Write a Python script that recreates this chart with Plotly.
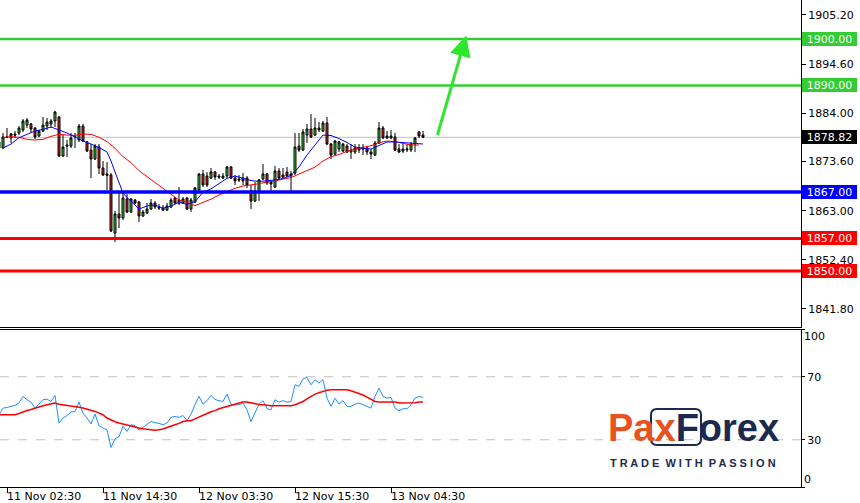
import plotly.graph_objects as go

# ---------------- data ----------------
opens = [1876.51, 1876.51, 1878.88, 1878.67, 1879.53, 1879.75, 1880.39, 1881.47, 1881.69, 1880.82,
         1879.10, 1880.18, 1881.26, 1881.69, 1882.33, 1883.20, 1874.79, 1877.16, 1876.94, 1879.10,
         1878.24, 1881.26, 1877.81, 1876.08, 1874.14, 1876.73, 1872.20, 1870.91, 1870.69, 1858.18,
         1862.28, 1861.42, 1865.52, 1862.71, 1865.30, 1864.87, 1861.85, 1862.50, 1863.36, 1864.65,
         1863.79, 1863.57, 1863.14, 1863.79, 1865.73, 1865.30, 1864.65, 1865.73, 1863.36, 1864.87,
         1867.46, 1870.91, 1870.47, 1870.04, 1871.34, 1870.47, 1870.04, 1870.47, 1872.42, 1870.04,
         1869.83, 1870.04, 1870.04, 1867.24, 1865.08, 1867.24, 1869.83, 1870.91, 1869.18, 1868.10,
         1871.55, 1870.69, 1871.34, 1870.91, 1871.12, 1876.94, 1876.08, 1879.31, 1880.61, 1879.31,
         1880.82, 1880.18, 1881.90, 1877.37, 1875.22, 1876.30, 1875.86, 1876.94, 1876.08, 1875.65,
         1876.51, 1876.30, 1876.51, 1875.65, 1875.00, 1877.59, 1880.82, 1879.10, 1878.67, 1878.88,
         1876.30, 1875.86, 1876.08, 1876.08, 1877.37, 1879.96, 1879.31]
highs = [1878.24, 1879.75, 1880.82, 1879.75, 1880.18, 1881.26, 1882.77, 1882.98, 1881.90, 1881.04,
         1880.39, 1883.20, 1882.98, 1882.77, 1884.49, 1883.41, 1879.31, 1878.24, 1879.75, 1879.75,
         1881.69, 1881.69, 1878.02, 1877.37, 1877.37, 1877.37, 1873.71, 1873.49, 1871.12, 1862.93,
         1867.03, 1867.03, 1866.59, 1865.73, 1865.52, 1865.08, 1863.14, 1864.65, 1865.52, 1865.08,
         1864.44, 1864.22, 1864.65, 1865.73, 1865.95, 1868.10, 1865.95, 1865.95, 1865.73, 1868.10,
         1871.12, 1871.77, 1871.34, 1872.20, 1871.55, 1870.91, 1871.12, 1872.63, 1872.63, 1870.69,
         1870.69, 1871.12, 1870.47, 1868.53, 1869.18, 1869.83, 1873.06, 1871.12, 1869.61, 1872.63,
         1872.20, 1872.20, 1872.42, 1871.55, 1879.75, 1879.75, 1880.61, 1881.69, 1883.85, 1882.98,
         1882.12, 1882.33, 1883.20, 1877.59, 1878.24, 1878.02, 1877.59, 1877.37, 1877.37, 1877.37,
         1877.37, 1877.37, 1876.94, 1876.30, 1878.02, 1882.12, 1881.26, 1880.18, 1880.39, 1879.75,
         1877.37, 1877.37, 1877.37, 1877.81, 1878.88, 1880.18, 1880.18]
lows = [1876.08, 1876.30, 1878.67, 1877.59, 1878.67, 1879.31, 1879.96, 1880.82, 1879.75, 1878.45,
        1878.88, 1879.96, 1880.39, 1880.82, 1881.04, 1874.57, 1874.57, 1874.57, 1876.51, 1876.51,
        1877.81, 1877.81, 1875.65, 1870.04, 1873.92, 1870.91, 1870.47, 1867.46, 1858.40, 1856.24,
        1859.26, 1860.99, 1862.50, 1862.50, 1864.44, 1860.55, 1861.63, 1862.28, 1863.14, 1863.36,
        1863.14, 1862.93, 1862.93, 1863.57, 1864.44, 1864.22, 1864.44, 1863.14, 1862.71, 1864.65,
        1867.24, 1868.10, 1868.10, 1869.83, 1869.61, 1869.83, 1869.83, 1870.04, 1869.83, 1868.53,
        1869.18, 1868.53, 1867.89, 1863.36, 1864.87, 1865.08, 1869.61, 1868.53, 1867.24, 1867.89,
        1869.83, 1870.04, 1870.26, 1867.24, 1870.69, 1875.65, 1875.86, 1877.59, 1878.67, 1879.10,
        1879.96, 1879.96, 1877.16, 1874.14, 1875.00, 1875.65, 1875.65, 1875.43, 1874.14, 1875.22,
        1875.43, 1875.00, 1875.00, 1874.14, 1874.79, 1877.37, 1878.45, 1878.45, 1878.45, 1875.86,
        1875.43, 1875.43, 1875.65, 1875.65, 1875.65, 1878.67, 1878.67]
closes = [1877.81, 1878.88, 1878.80, 1879.53, 1879.31, 1880.82, 1882.33, 1882.55, 1880.61, 1878.88,
          1880.18, 1881.47, 1882.12, 1882.33, 1884.28, 1874.79, 1876.73, 1876.94, 1878.67, 1879.00,
          1881.26, 1878.02, 1875.86, 1874.14, 1876.94, 1872.20, 1870.69, 1870.60, 1858.61, 1862.28,
          1861.42, 1865.73, 1862.71, 1865.52, 1864.65, 1861.85, 1862.71, 1863.36, 1864.65, 1863.79,
          1863.57, 1863.14, 1864.01, 1865.30, 1864.65, 1864.65, 1865.52, 1863.36, 1865.30, 1867.89,
          1870.91, 1868.53, 1868.53, 1871.34, 1870.26, 1870.26, 1870.47, 1872.42, 1870.04, 1869.40,
          1869.61, 1869.40, 1868.53, 1865.08, 1867.24, 1869.61, 1870.91, 1868.97, 1868.75, 1871.55,
          1870.04, 1870.26, 1870.47, 1870.47, 1876.73, 1876.08, 1879.96, 1880.61, 1878.88, 1880.82,
          1880.39, 1881.90, 1877.37, 1875.00, 1878.02, 1877.81, 1877.37, 1875.65, 1875.65, 1876.51,
          1876.08, 1876.51, 1875.65, 1875.22, 1877.59, 1880.82, 1878.67, 1878.67, 1879.10, 1876.08,
          1875.65, 1876.30, 1876.30, 1877.37, 1878.67, 1879.10, 1878.82]
candle_idx = list(range(len(opens)))

ma_fast_pos = [1, 3, 5, 7, 9, 11, 13, 15, 17, 19, 21, 23, 25, 27, 28, 29, 30, 31, 32, 33, 34, 35,
               37, 39, 41, 43, 45, 47, 49, 51, 53, 55, 57, 59, 61, 63, 65, 67, 69, 71, 73, 75, 77,
               79, 81, 83, 85, 87, 89, 91, 93, 95, 97, 99, 101, 103, 105, 106]
ma_fast = [1876.51, 1877.37, 1878.73, 1879.46, 1880.18, 1880.54, 1881.04, 1880.39, 1879.75, 1878.88,
           1878.02, 1877.37, 1876.62, 1875.65, 1873.71, 1871.34, 1868.97, 1866.81, 1865.84, 1864.97,
           1864.01, 1863.36, 1864.01, 1864.22, 1863.50, 1864.01, 1864.80, 1864.37, 1864.94, 1866.96,
           1867.70, 1868.89, 1869.97, 1870.47, 1870.04, 1869.50, 1869.29, 1869.40, 1869.61, 1869.93,
           1870.58, 1872.42, 1875.00, 1877.16, 1879.31, 1879.20, 1878.56, 1877.70, 1876.73, 1876.43,
           1876.30, 1877.05, 1877.81, 1877.81, 1877.70, 1877.44, 1877.37, 1877.37]
ma_slow_pos = list(range(1, 106, 2))
ma_slow = [1878.82, 1878.95, 1878.82, 1878.39, 1878.24, 1878.39, 1879.03, 1879.46, 1879.31, 1879.24,
           1879.53, 1879.46, 1878.82, 1877.90, 1876.45, 1874.65, 1873.35, 1871.62, 1870.33, 1869.11,
           1867.82, 1866.52, 1865.30, 1864.80, 1864.07, 1864.80, 1865.48, 1866.38, 1867.17, 1867.82,
           1868.32, 1868.53, 1868.81, 1869.18, 1869.40, 1869.83, 1870.11, 1870.91, 1871.62, 1872.38,
           1873.71, 1874.65, 1875.10, 1875.80, 1876.30, 1876.66, 1877.01, 1877.66, 1878.02, 1877.88,
           1877.44, 1877.16, 1877.16]

rsi = [45.9, 50.1, 50.5, 51.2, 51.8, 53.3, 57.5, 55.4, 53.9, 50.1, 52.6,
       55.4, 55.8, 54.3, 58.1, 40.6, 43.8, 45.4, 47.6, 48.0, 53.9,
       46.9, 43.8, 40.0, 46.3, 38.9, 37.4, 36.3, 25.1, 30.6, 31.9,
       38.5, 35.3, 39.5, 39.1, 36.1, 37.8, 40.0, 41.6, 40.8, 40.4,
       39.5, 40.6, 44.2, 44.8, 44.2, 45.4, 42.1, 46.3, 52.2, 57.5,
       52.6, 54.8, 58.1, 55.6, 54.8, 54.3, 59.0, 52.6, 52.2, 52.2,
       53.3, 49.0, 41.6, 46.9, 52.6, 54.8, 49.7, 49.0, 55.4, 53.9,
       54.8, 53.9, 54.3, 64.9, 63.9, 68.7, 69.6, 64.9, 68.1, 66.0,
       68.1, 56.4, 51.2, 56.4, 52.6, 54.8, 51.2, 51.2, 52.6, 53.3,
       52.2, 51.2, 50.1, 57.5, 62.8, 57.5, 56.4, 56.9, 50.1, 48.4,
       49.7, 49.7, 52.2, 56.4, 57.5, 56.9]
rsi_ma = [45.9, 45.9, 45.9, 45.9, 45.9,
          46.7, 47.8, 48.6, 49.2, 50.1, 51.2, 51.6, 52.2, 52.9, 53.3,
          52.6, 52.2, 52.0, 51.8, 51.2, 50.7, 50.1, 49.5, 48.6, 48.0,
          46.9, 45.9, 43.8, 42.5, 41.4, 40.6, 39.9, 39.5, 38.7, 38.0,
          37.4, 37.0, 36.6, 36.1, 36.1, 36.3, 36.8, 37.8, 38.5, 39.5,
          40.4, 41.6, 42.1, 42.1, 43.3, 44.6, 45.9, 46.7, 47.8, 48.5,
          49.7, 50.5, 51.4, 52.2, 52.6, 53.3, 53.9, 53.9, 53.3, 52.6,
          52.4, 52.2, 51.8, 51.6, 51.6, 51.6, 51.6, 51.6, 51.6, 52.2,
          53.1, 54.3, 56.0, 57.7, 59.0, 59.8, 60.7, 61.5, 61.7, 61.7,
          61.7, 61.7, 61.7, 61.1, 60.3, 59.4, 58.4, 57.1, 55.6, 54.3,
          53.9, 53.9, 53.9, 53.9, 53.9, 53.3, 53.3, 53.3, 53.3, 53.5,
          53.9, 53.9]

levels_green = [1900.00, 1890.00]
levels_blue = [1867.00]
levels_red = [1857.00, 1850.00]
last_price = 1878.82

price_ticks = [1905.20, 1894.60, 1884.00, 1873.60, 1863.00, 1852.40, 1841.80]
time_tick_pos = [2, 26, 50, 74, 98]
time_tick_labels = ["11 Nov 02:30", "11 Nov 14:30", "12 Nov 03:30", "12 Nov 15:30", "13 Nov 04:30"]
rsi_levels = [70, 30]

arrow_from = (109.5, 1879.0)
arrow_to = (116.8, 1900.8)

# ---------------- styling ----------------
FONT = "DejaVu Sans"
UP = "#2fcf2f"
DOWN = "#e01e1e"
GREEN = "#33cc33"
BLUE = "#0000ff"
RED = "#ff0000"
W, H = 860, 503
ML, MR, MT, MB = 0, 59, 0, 16
PW, PH = W - ML - MR, H - MT - MB

fig = go.Figure()

fig.add_trace(go.Candlestick(
    x=candle_idx, open=opens, high=highs, low=lows, close=closes,
    increasing=dict(fillcolor=UP, line=dict(color="black", width=1)),
    decreasing=dict(fillcolor=DOWN, line=dict(color="black", width=1)),
    whiskerwidth=0, xaxis="x", yaxis="y", showlegend=False, hoverinfo="skip"))
fig.add_trace(go.Scatter(x=ma_slow_pos, y=ma_slow, mode="lines",
                         line=dict(color=RED, width=1), xaxis="x", yaxis="y", hoverinfo="skip"))
fig.add_trace(go.Scatter(x=ma_fast_pos, y=ma_fast, mode="lines",
                         line=dict(color=BLUE, width=1), xaxis="x", yaxis="y", hoverinfo="skip"))
fig.add_trace(go.Scatter(x=candle_idx, y=rsi, mode="lines",
                         line=dict(color="#1e90ff", width=1), xaxis="x2", yaxis="y2", hoverinfo="skip"))
fig.add_trace(go.Scatter(x=candle_idx, y=rsi_ma, mode="lines",
                         line=dict(color=RED, width=1.5), xaxis="x2", yaxis="y2", hoverinfo="skip"))

shapes = []
shapes.append(dict(type="line", xref="x domain", yref="y", x0=0, x1=1, y0=last_price, y1=last_price,
                   line=dict(color="#c0c0c0", width=1), layer="below"))
for lv in rsi_levels:
    shapes.append(dict(type="line", xref="x2 domain", yref="y2", x0=0, x1=1, y0=lv, y1=lv,
                       line=dict(color="#c0c0c0", width=1, dash="dash"), layer="below"))
for lvls, col, wd in ((levels_green, GREEN, 2.5), (levels_blue, BLUE, 3.5), (levels_red, RED, 3)):
    for lv in lvls:
        shapes.append(dict(type="line", xref="x domain", yref="y", x0=0, x1=1, y0=lv, y1=lv,
                           line=dict(color=col, width=wd), layer="above"))

annotations = []


def box_label(val, bg):
    return dict(x=1, xref="paper", y=val, yref="y", xanchor="left", yanchor="middle", xshift=1,
                text=f"{val:.2f}", showarrow=False, bgcolor=bg, borderpad=1, borderwidth=0,
                width=53, height=12, align="center", font=dict(family=FONT, size=11, color="white"))


for lv in levels_green:
    annotations.append(box_label(lv, GREEN))
for lv in levels_blue:
    annotations.append(box_label(lv, BLUE))
for lv in levels_red:
    annotations.append(box_label(lv, RED))
annotations.append(box_label(last_price, "black"))

for pos, lab in zip(time_tick_pos, time_tick_labels):
    annotations.append(dict(x=pos, xref="x2", y=0, yref="paper", xanchor="left", yanchor="top",
                            yshift=-1, xshift=-2, text=lab, showarrow=False,
                            font=dict(family=FONT, size=11, color="black")))

annotations.append(dict(x=1, xref="paper", y=100, yref="y2", xanchor="left", yanchor="top",
                        xshift=1, yshift=2, text="100", showarrow=False,
                        font=dict(family=FONT, size=11, color="black")))
annotations.append(dict(x=1, xref="paper", y=0, yref="y2", xanchor="left", yanchor="bottom",
                        xshift=1, yshift=-1, text="0", showarrow=False,
                        font=dict(family=FONT, size=11, color="black")))

# forecast arrow
annotations.append(dict(x=arrow_to[0], y=arrow_to[1], xref="x", yref="y",
                        ax=arrow_from[0], ay=arrow_from[1], axref="x", ayref="y",
                        showarrow=True, arrowhead=2, arrowsize=1.4, arrowwidth=3,
                        arrowcolor="#2ee62e", text=""))

# logo (decoration)
def px(xp):
    return xp / PW


def py(yp):
    return (PH - yp) / PH


annotations.append(dict(x=px(693), y=py(428), xref="paper", yref="paper", xanchor="center",
                        yanchor="middle", showarrow=False,
                        text="<span style='color:#e8521f'>Pax</span><span style='color:#1b2a4e'>Forex</span>",
                        font=dict(family="Liberation Sans", size=38, weight="bold")))
annotations.append(dict(x=px(693), y=py(463), xref="paper", yref="paper", xanchor="center",
                        yanchor="middle", showarrow=False,
                        text="T R A D E  W I T H  P A S S I O N",
                        font=dict(family="Liberation Sans", size=11, color="#1b2a4e", weight="bold")))
x0, x1, y0, y1, r = 651, 701, 409, 445, 6
path = (f"M {px(x0 + r)},{py(y0)} L {px(x1 - r)},{py(y0)} Q {px(x1)},{py(y0)} {px(x1)},{py(y0 + r)} "
        f"L {px(x1)},{py(y1 - r)} Q {px(x1)},{py(y1)} {px(x1 - r)},{py(y1)} "
        f"L {px(x0 + r)},{py(y1)} Q {px(x0)},{py(y1)} {px(x0)},{py(y1 - r)} "
        f"L {px(x0)},{py(y0 + r)} Q {px(x0)},{py(y0)} {px(x0 + r)},{py(y0)} Z")
shapes.append(dict(type="path", xref="paper", yref="paper", path=path,
                   line=dict(color="#1b2a4e", width=2), layer="above"))

axis_font = dict(family=FONT, size=11, color="black")
xrange = [0.25, 200.5]
fig.update_layout(
    width=W, height=H,
    margin=dict(l=ML, r=MR, t=MT, b=MB, pad=0, autoexpand=False),
    paper_bgcolor="white", plot_bgcolor="white",
    showlegend=False,
    font=axis_font,
    xaxis=dict(domain=[0, 1], anchor="y", range=xrange, showgrid=False, zeroline=False,
               showticklabels=False, ticks="", showline=True, linecolor="black", linewidth=1,
               rangeslider=dict(visible=False), fixedrange=True, automargin=False),
    yaxis=dict(domain=[0.3285, 1], anchor="x", side="right", range=[1837.91, 1908.43],
               showgrid=False, zeroline=False, tickmode="array", tickvals=price_ticks,
               ticktext=[f"{v:.2f}" for v in price_ticks], ticks="outside", ticklen=4,
               tickcolor="black", showline=True, linecolor="black", linewidth=1,
               tickfont=axis_font, automargin=False),
    xaxis2=dict(domain=[0, 1], anchor="y2", range=xrange, matches="x", showgrid=False,
                zeroline=False, tickmode="array", tickvals=time_tick_pos,
                ticktext=["" for _ in time_tick_pos], ticks="outside", ticklen=5,
                tickcolor="black", showline=True, mirror=True, linecolor="black", linewidth=1,
                automargin=False),
    yaxis2=dict(domain=[0, 0.3234], anchor="x2", side="right", range=[0, 100], showgrid=False,
                zeroline=False, tickmode="array", tickvals=[0] + rsi_levels + [100],
                ticktext=["", "70", "30", ""], ticks="outside", ticklen=3, tickcolor="black",
                showline=True, linecolor="black", linewidth=1, tickfont=axis_font,
                automargin=False),
    shapes=shapes,
    annotations=annotations,
)

fig.write_html("out.html", config={"displayModeBar": False},
               post_script="document.body.style.margin='0px';document.body.style.padding='0px';")
